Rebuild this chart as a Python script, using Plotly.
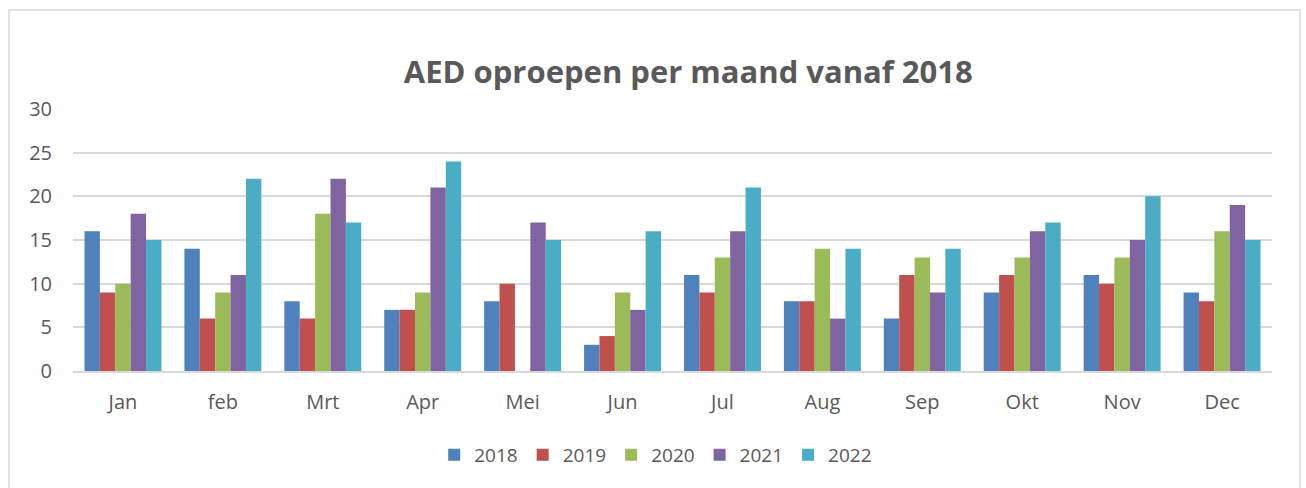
import plotly.graph_objects as go

months = ["Jan", "feb", "Mrt", "Apr", "Mei", "Jun", "Jul", "Aug", "Sep", "Okt", "Nov", "Dec"]
years = ["2018", "2019", "2020", "2021", "2022"]
v2018 = [16, 14, 8, 7, 8, 3, 11, 8, 6, 9, 11, 9]
v2019 = [9, 6, 6, 7, 10, 4, 9, 8, 11, 11, 10, 8]
v2020 = [10, 9, 18, 9, None, 9, 13, 14, 13, 13, 13, 16]
v2021 = [18, 11, 22, 21, 17, 7, 16, 6, 9, 16, 15, 19]
v2022 = [15, 22, 17, 24, 15, 16, 21, 14, 14, 17, 20, 15]
series = [v2018, v2019, v2020, v2021, v2022]
colors = ["#4F81BD", "#C0504D", "#9BBB59", "#8064A2", "#4BACC6"]

fig = go.Figure()
for name, vals, col in zip(years, series, colors):
    fig.add_trace(go.Bar(x=months, y=vals, name=name, marker_color=col,
                         marker_line_width=0))

font = "Open Sans"
fig.update_layout(
    width=1306, height=488,
    margin=dict(l=73, r=34, t=109, b=117),
    paper_bgcolor="white", plot_bgcolor="white",
    barmode="group", bargap=0.23, bargroupgap=0,
    title=dict(text="<b>AED oproepen per maand vanaf 2018</b>", x=0.527, xanchor="center",
               y=0.852, yanchor="middle",
               font=dict(family=font, size=31, color="#595959")),
    font=dict(family=font, size=20, color="#595959"),
    legend=dict(orientation="h", x=0.486, xanchor="center", y=-0.32, yanchor="middle",
                font=dict(size=19, color="#595959"), itemwidth=30, traceorder="normal"),
    xaxis=dict(showgrid=False, showline=True, linecolor="#D9D9D9", linewidth=1.5,
               ticks="", ticklabelstandoff=12, tickfont=dict(size=20, color="#595959")),
    yaxis=dict(range=[0, 30], dtick=5, showgrid=True, gridcolor="#D9D9D9", gridwidth=1.5,
               zeroline=False, showline=False, ticks="", ticklabelstandoff=20,
               tickfont=dict(size=20, color="#595959")),
    shapes=[dict(type="rect", xref="paper", yref="paper",
                 x0=(9 - 73) / 1199, x1=(1300 - 73) / 1199,
                 y0=-0.6, y1=1 + (109 - 10) / 262,
                 line=dict(color="#D9D9D9", width=1.5), fillcolor="rgba(0,0,0,0)",
                 layer="below")],
)

fig.write_html("out.html", config={"displayModeBar": False},
               post_script="document.body.style.margin='0';")
